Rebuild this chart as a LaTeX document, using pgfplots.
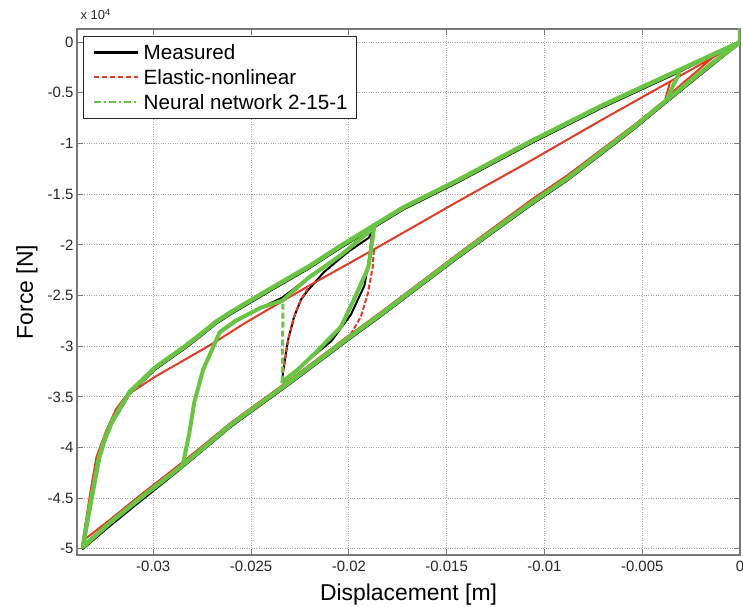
\documentclass[border=0pt]{standalone}
\usepackage{pgfplots}
\pgfplotsset{compat=1.18}
\usepackage{fontspec}
\setmainfont{Liberation Sans}
\definecolor{mred}{RGB}{226,58,36}
\definecolor{mgreen}{RGB}{104,196,66}
\definecolor{axgray}{RGB}{120,120,120}
\definecolor{gridgray}{RGB}{165,165,165}
\begin{document}
\begin{tikzpicture}
\useasboundingbox (-77bp,-52bp) rectangle (666bp,555bp);
\begin{axis}[
  name=ax,
  scale only axis, width=663bp, height=526bp,
  at={(0,0)}, anchor=south west,
  xmin=-0.0339, xmax=0, ymin=-5.06, ymax=0.13,
  scaled x ticks=false, scaled y ticks=false,
  xtick={-0.03,-0.025,-0.02,-0.015,-0.01,-0.005,0},
  xticklabels={-0.03,-0.025,-0.02,-0.015,-0.01,-0.005,0},
  ytick={-5,-4.5,-4,-3.5,-3,-2.5,-2,-1.5,-1,-0.5,0},
  yticklabels={-5,-4.5,-4,-3.5,-3,-2.5,-2,-1.5,-1,-0.5,0},
  /pgf/number format/assume math mode=true,
  tick label style={font=\fontsize{15}{18}\selectfont, text=black!85},
  xticklabel style={yshift=-3bp},
  tick align=inside, major tick length=6bp,
  tick style={axgray, line width=1bp},
  axis line style={axgray, line width=1.3bp},
  grid=major,
  major grid style={dotted, gridgray, line width=0.9bp},
  xlabel={Displacement [m]},
  xlabel style={at={(axis description cs:0.5,-0.076)}, anchor=center, font=\fontsize{23}{27}\selectfont},
  ylabel={Force [N]},
  ylabel style={at={(axis description cs:-0.0754,0.5)}, anchor=center, font=\fontsize{23}{27}\selectfont},
  legend cell align=left,
  legend style={at={(axis description cs:0.00905,0.9867)}, anchor=north west,
    draw=black!85, line width=1bp, fill=white,
    font=\fontsize{20.7}{25}\selectfont,
    inner xsep=9bp, inner ysep=6bp, row sep=5bp, column sep=5bp,
    nodes={inner sep=0pt, text height=17bp, text depth=3bp}},
]
% ---------------- Measured ----------------
\addplot[black, line width=2bp, line join=round,
  legend image code/.code={\draw[black, line width=2.2bp] (0bp,0bp) -- (44bp,0bp);}] coordinates {
(0,-0.01) (-0.0015,-0.24) (-0.0038,-0.60) (-0.0055,-0.87) (-0.0088,-1.36) (-0.0107,-1.61)
(-0.0145,-2.14) (-0.0184,-2.71) (-0.0199,-2.92) (-0.0230,-3.37) (-0.0260,-3.79) (-0.0286,-4.21)
(-0.0306,-4.52) (-0.0322,-4.77) (-0.0336,-5.00)
(-0.03335,-4.72) (-0.03306,-4.42) (-0.03276,-4.11) (-0.03245,-3.92) (-0.03210,-3.76) (-0.03173,-3.64)
(-0.0312,-3.47) (-0.0306,-3.36) (-0.0299,-3.23) (-0.0291,-3.12) (-0.0283,-3.01) (-0.0275,-2.89)
(-0.0268,-2.78) (-0.0260,-2.68) (-0.0253,-2.60) (-0.0239,-2.44) (-0.0221,-2.24)
(-0.0205,-2.04) (-0.0189,-1.85) (-0.0172,-1.65) (-0.0145,-1.39) (-0.0107,-1.00) (-0.0071,-0.65)
(-0.0035,-0.33) (0,0)};
\addlegendentry{Measured}
\addplot[black, line width=2bp, forget plot] coordinates {
(-0.0031,-0.31) (-0.0034,-0.43) (-0.0037,-0.57)};
\addplot[black, line width=2bp, line join=round, forget plot] coordinates {
(-0.0286,-4.21) (-0.02847,-4.15) (-0.02816,-3.86) (-0.0279,-3.55) (-0.02745,-3.23) (-0.02694,-3.01)
(-0.0266,-2.87) (-0.0258,-2.76) (-0.0246,-2.63) (-0.0234,-2.52) (-0.0221,-2.33) (-0.0204,-2.10)
(-0.0189,-1.86)};
\addplot[black, line width=2bp, line join=round, forget plot] coordinates {
(-0.0234,-3.35) (-0.02337,-3.26) (-0.02311,-2.94) (-0.0228,-2.71) (-0.02245,-2.54) (-0.0221,-2.45)
(-0.02128,-2.27) (-0.02005,-2.07) (-0.01898,-1.93) (-0.0188,-1.86)};
\addplot[black, line width=2bp, line join=round, forget plot] coordinates {
(-0.0234,-3.35) (-0.0221,-3.14) (-0.0209,-2.95) (-0.0199,-2.69) (-0.0192,-2.40) (-0.01895,-2.12)
(-0.0188,-1.86)};

% ---------------- Elastic-nonlinear ----------------
\addplot[mred, line width=2bp, line join=round,
  legend image code/.code={%
    \draw[mred, solid, line width=2bp, line cap=butt, dash pattern=on 5.5bp off 2.5bp on 5.5bp off 2.5bp on 5.5bp off 2.5bp on 5.5bp off 2.5bp on 5.5bp off 2.5bp on 4bp off 0bp] (0bp,0bp) -- (44bp,0bp);}] coordinates {
(0,0) (-0.0035,-0.38) (-0.0071,-0.77) (-0.0107,-1.17) (-0.0145,-1.58) (-0.0184,-2.01)
(-0.0221,-2.41) (-0.0253,-2.77) (-0.0271,-2.99) (-0.0299,-3.30) (-0.0314,-3.49) (-0.0319,-3.62)
(-0.0324,-3.83) (-0.0329,-4.09) (-0.0332,-4.42) (-0.0336,-4.92)
(-0.0322,-4.71) (-0.0306,-4.46) (-0.0286,-4.16) (-0.0260,-3.75) (-0.0230,-3.33) (-0.0199,-2.88)
(-0.0184,-2.67) (-0.0145,-2.10) (-0.0107,-1.56) (-0.0088,-1.31) (-0.0055,-0.83) (-0.0038,-0.57)
(-0.0035,-0.50) (-0.0012,-0.12) (0,0)};
\addlegendentry{Elastic-nonlinear}
\addplot[mred, line width=2bp, forget plot] coordinates {
(-0.00357,-0.39) (-0.00383,-0.57)};
\addplot[mred, line width=2bp, dash pattern=on 5bp off 2bp, forget plot] coordinates {
(-0.01872,-2.05) (-0.01878,-2.22) (-0.01903,-2.48) (-0.01939,-2.71) (-0.0199,-2.88)};
\addplot[mred, line width=2bp, dash pattern=on 5bp off 2bp, forget plot] coordinates {
(-0.02337,-3.26) (-0.02311,-2.94) (-0.0228,-2.71) (-0.02245,-2.54) (-0.0221,-2.43)};

% ---------------- Neural network ----------------
\addplot[mgreen, line width=4.5bp, line join=round, line cap=round,
  legend image code/.code={\draw[mgreen, line width=2bp, line cap=butt, dash pattern=on 7bp off 3bp on 2bp off 3bp] (0bp,0bp) -- (44bp,0bp);}] coordinates {
(0,0) (-0.0015,-0.22) (-0.0038,-0.58) (-0.0055,-0.85) (-0.0088,-1.34) (-0.0107,-1.59)
(-0.0145,-2.12) (-0.0184,-2.69) (-0.0199,-2.90) (-0.0230,-3.35) (-0.0260,-3.77) (-0.0286,-4.19)
(-0.0306,-4.49) (-0.0322,-4.74) (-0.0336,-4.98)
(-0.03335,-4.70) (-0.03306,-4.40) (-0.03276,-4.09) (-0.03245,-3.90) (-0.03210,-3.74) (-0.03173,-3.62)
(-0.0312,-3.45) (-0.0306,-3.34) (-0.0299,-3.21) (-0.0291,-3.10) (-0.0283,-2.99) (-0.0275,-2.87)
(-0.0268,-2.76) (-0.0260,-2.66) (-0.0253,-2.58) (-0.0239,-2.42) (-0.0221,-2.22)
(-0.0205,-2.02) (-0.0189,-1.83) (-0.0172,-1.63) (-0.0145,-1.37) (-0.0107,-0.98) (-0.0071,-0.63)
(-0.0035,-0.31) (0,0) (0,0.12)};
\addlegendentry{Neural network 2-15-1}
\addplot[mgreen, line width=4bp, line cap=round, forget plot] coordinates {
(-0.0031,-0.30) (-0.0034,-0.42) (-0.0037,-0.55)};
\addplot[mgreen, line width=4bp, line join=round, line cap=round, forget plot] coordinates {
(-0.02857,-4.20) (-0.02847,-4.15) (-0.02816,-3.86) (-0.0279,-3.55) (-0.02745,-3.23) (-0.02694,-3.01)
(-0.0266,-2.86) (-0.0258,-2.75) (-0.0245,-2.62) (-0.0234,-2.55) (-0.0221,-2.33) (-0.0204,-2.10)
(-0.0189,-1.86)};
\addplot[mgreen, line width=4bp, line join=round, line cap=round, forget plot] coordinates {
(-0.0187,-1.82) (-0.0190,-2.22) (-0.01974,-2.54) (-0.02041,-2.81) (-0.02158,-3.04) (-0.0226,-3.23)
(-0.0234,-3.35)};
\addplot[mgreen, line width=3bp, dash pattern=on 6bp off 3bp, forget plot] coordinates {
(-0.02337,-2.58) (-0.0234,-3.36)};
\end{axis}
\node[anchor=base west, font=\fontsize{13}{15}\selectfont, text=black!85, yshift=9bp] at (ax.north west) {x 10\textsuperscript{4}};
\end{tikzpicture}
\end{document}
